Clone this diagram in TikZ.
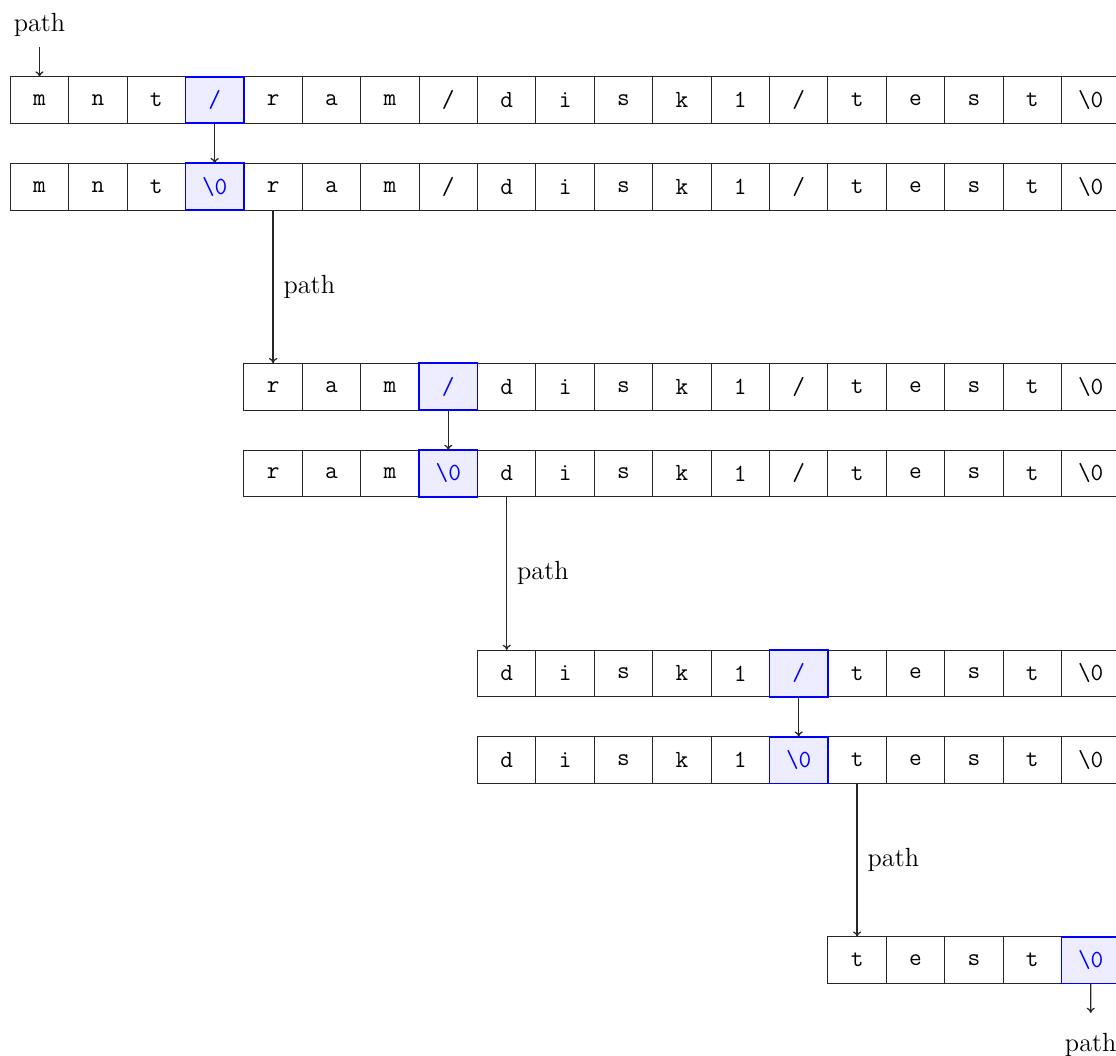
\documentclass[tikz,border=0pt]{standalone}
\usetikzlibrary{arrows.meta}
\begin{document}
\newcommand\cellrow[6]{% #1 name, #2 first column, #3 y centre, #4 highlighted column, #5 highlighted text, #6 list
  \foreach \ch [count=\k from #2] in {#6}{%
    \ifnum\k=#4\relax\else\node[cell] (#1-\k) at ({39.5+58.4*\k},#3) {\ch};\fi}%
  \node[hl] (#1-#4) at ({39.5+58.4*#4},#3) {#5};}
\begin{tikzpicture}[x=0.017123cm,y=-0.017123cm,
  cell/.style={draw=black!85, line width=0.5pt, minimum width=1cm, minimum height=0.8cm,
    inner sep=0pt, outer sep=0pt, font=\fontsize{12}{14}\selectfont\ttfamily},
  hl/.style={cell, draw=blue, fill=blue!7, text=blue, line width=0.9pt},
  lbl/.style={font=\fontsize{12.8}{15}\selectfont},
  conn/.style={-{To[length=2.6pt,width=4pt]}, line width=0.6pt, draw=black!85}]
\useasboundingbox (0,0) rectangle (1116,1056);
\cellrow{a}{0}{100}{3}{/}{m,n,t,/,r,a,m,/,d,i,s,k,1,/,t,e,s,t,{\textbackslash0}}
\cellrow{b}{0}{186.7}{3}{\textbackslash0}{m,n,t,{\textbackslash0},r,a,m,/,d,i,s,k,1,/,t,e,s,t,{\textbackslash0}}
\cellrow{c}{4}{386.7}{7}{/}{r,a,m,/,d,i,s,k,1,/,t,e,s,t,{\textbackslash0}}
\cellrow{d}{4}{473.4}{7}{\textbackslash0}{r,a,m,{\textbackslash0},d,i,s,k,1,/,t,e,s,t,{\textbackslash0}}
\cellrow{e}{8}{673.4}{13}{/}{d,i,s,k,1,/,t,e,s,t,{\textbackslash0}}
\cellrow{f}{8}{760.1}{13}{\textbackslash0}{d,i,s,k,1,{\textbackslash0},t,e,s,t,{\textbackslash0}}
\cellrow{g}{14}{960.1}{18}{\textbackslash0}{t,e,s,t,{\textbackslash0}}
% labels and connectors
\node[lbl, anchor=south, inner xsep=0pt, inner ysep=4.9pt] (p0) at (39.5,47) {path};
\draw[conn] (p0.south) -- (a-0.north);
\draw[conn] (a-3.south) -- (b-3.north);
\draw[conn] (b-4.south) -- node[lbl, right, inner sep=4.8pt] (l1) {path} (c-4.north);
\draw[conn] (c-7.south) -- (d-7.north);
\draw[conn] (d-8.south) -- node[lbl, right, inner sep=4.8pt] (l2) {path} (e-8.north);
\draw[conn] (e-13.south) -- (f-13.north);
\draw[conn] (f-14.south) -- node[lbl, right, inner sep=4.8pt] (l3) {path} (g-14.north);
\node[lbl, anchor=north, inner xsep=0pt, inner ysep=9.7pt] (p4) at (1090.7,1013) {path};
\draw[conn] (g-18.south) -- (p4.north);
\end{tikzpicture}
\end{document}
